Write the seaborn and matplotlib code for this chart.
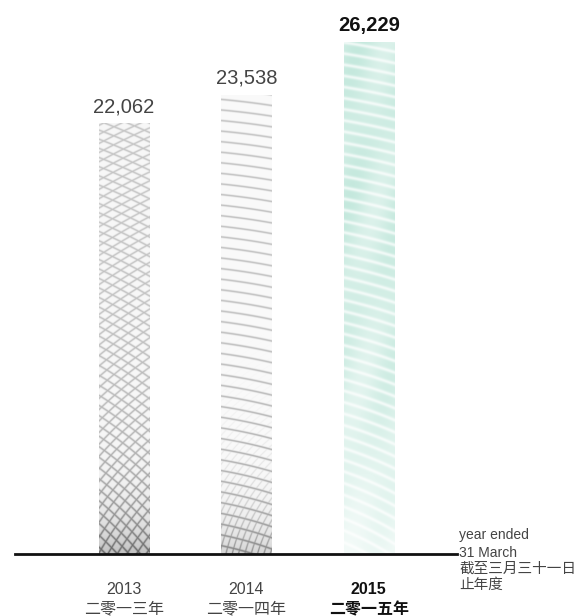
import numpy as np
import pandas as pd
import matplotlib
matplotlib.use("Agg")
import matplotlib.pyplot as plt
import seaborn as sns

# data
years = ["2013", "2014", "2015"]
years_cn = ["二零一三年", "二零一四年", "二零一五年"]
values = [22062, 23538, 26229]
unit_en = ["year ended", "31 March"]
unit_cn = ["截至三月三十一日", "止年度"]

df = pd.DataFrame({"year": years, "value": values})

sns.set_theme(style="white")
plt.rcParams["font.family"] = ["Liberation Sans", "Noto Sans CJK TC", "DejaVu Sans"]

W, H = 588, 616
fig = plt.figure(figsize=(W / 100, H / 100), dpi=100)
# axes from baseline (y=554px) up to top of figure
ax = fig.add_axes([15 / W, 62 / H, (457 - 15) / W, 554 / H])

sns.barplot(data=df, x="year", y="value", order=years, width=0.41,
            color="white", edgecolor="none", ax=ax)


def rings(U, V, cx, cy, period, sharp):
    r = np.hypot(U - cx, V - cy)
    return (0.5 + 0.5 * np.cos(2 * np.pi * r / period)) ** sharp


def texture(kind, hpx, wpx=50, s=2):
    v, u = np.mgrid[0:hpx * s, 0:wpx * s] / s
    t = v / hpx  # 0 at top, 1 at bottom
    if kind == 0:
        l1 = rings(u, v, -260, hpx + 250, 8.5, 10)
        l2 = rings(u, v, 320, hpx + 180, 8.0, 10)
        lines = np.maximum(l1, l2)
        dark = (0.22 + 0.18 * t ** 3) * lines + 0.03 + 0.22 * t ** 12
        val = 1 - dark
        rgb = np.dstack([val, val, val])
    elif kind == 1:
        l1 = rings(u, v, -70, hpx + 320, 10.5, 14)
        l2 = rings(u, v, 180, hpx + 40, 6.0, 10) * t ** 6
        lines = np.maximum(l1, l2)
        dark = (0.24 + 0.12 * t ** 3) * lines + 0.02 + 0.15 * t ** 14
        val = 1 - dark
        rgb = np.dstack([val, val, val])
    else:
        teal = np.array([0.74, 0.90, 0.85])
        lines = rings(u, v, -120, hpx + 260, 11.0, 4)
        blot = 0.5 + 0.5 * np.sin(u / 9.0 + v / 37.0) * np.cos(v / 53.0)
        strength = (0.55 + 0.35 * blot) * (1 - 0.7 * t ** 3)
        mix = strength * (1 - 0.75 * lines)
        rgb = 1 - mix[..., None] * (1 - teal)[None, None, :]
    return np.clip(rgb, 0, 1)


ymax = max(values) * 554 / 512
ax.set_xlim(-0.89, 2.72)
ax.set_ylim(0, ymax)
px_per_unit = 554 / ymax

for i, bar in enumerate(ax.patches):
    x0, w, h = bar.get_x(), bar.get_width(), bar.get_height()
    img = texture(i, int(round(h * px_per_unit)))
    im = ax.imshow(img, extent=[x0, x0 + w, 0, h], aspect="auto",
                   interpolation="bilinear", zorder=2)
    im.set_clip_path(bar)

ax.set_xlim(-0.89, 2.72)
ax.set_ylim(0, ymax)

labels = ax.bar_label(ax.containers[0], labels=[f"{v:,}" for v in values],
                      padding=5, fontsize=14.5, color="#444444")
labels[-1].set_fontweight("bold")
labels[-1].set_color("#111111")

ax.set_xlabel("")
ax.set_ylabel("")
ax.set_yticks([])
ax.set_xticks(range(len(years)))
ax.set_xticklabels([f"{y}\n{c}" for y, c in zip(years, years_cn)],
                   fontsize=11.5, color="#444444", linespacing=1.4)
ax.get_xticklabels()[-1].set_fontweight("bold")
ax.get_xticklabels()[-1].set_color("#111111")
ax.tick_params(axis="x", length=0, pad=20)

for side in ["top", "left", "right"]:
    ax.spines[side].set_visible(False)
ax.spines["bottom"].set_color("#111111")
ax.spines["bottom"].set_linewidth(2)
ax.spines["bottom"].set_zorder(5)

# unit note at the right of the baseline
tx = 459 / W
for k, (txt, ypx) in enumerate(zip(unit_en + unit_cn, [535, 553, 569, 585])):
    fig.text(tx, 1 - ypx / H, txt, fontsize=10 if k < 2 else 10.5,
             color="#444444", va="center", ha="left")

fig.savefig("out.png", dpi=100)
